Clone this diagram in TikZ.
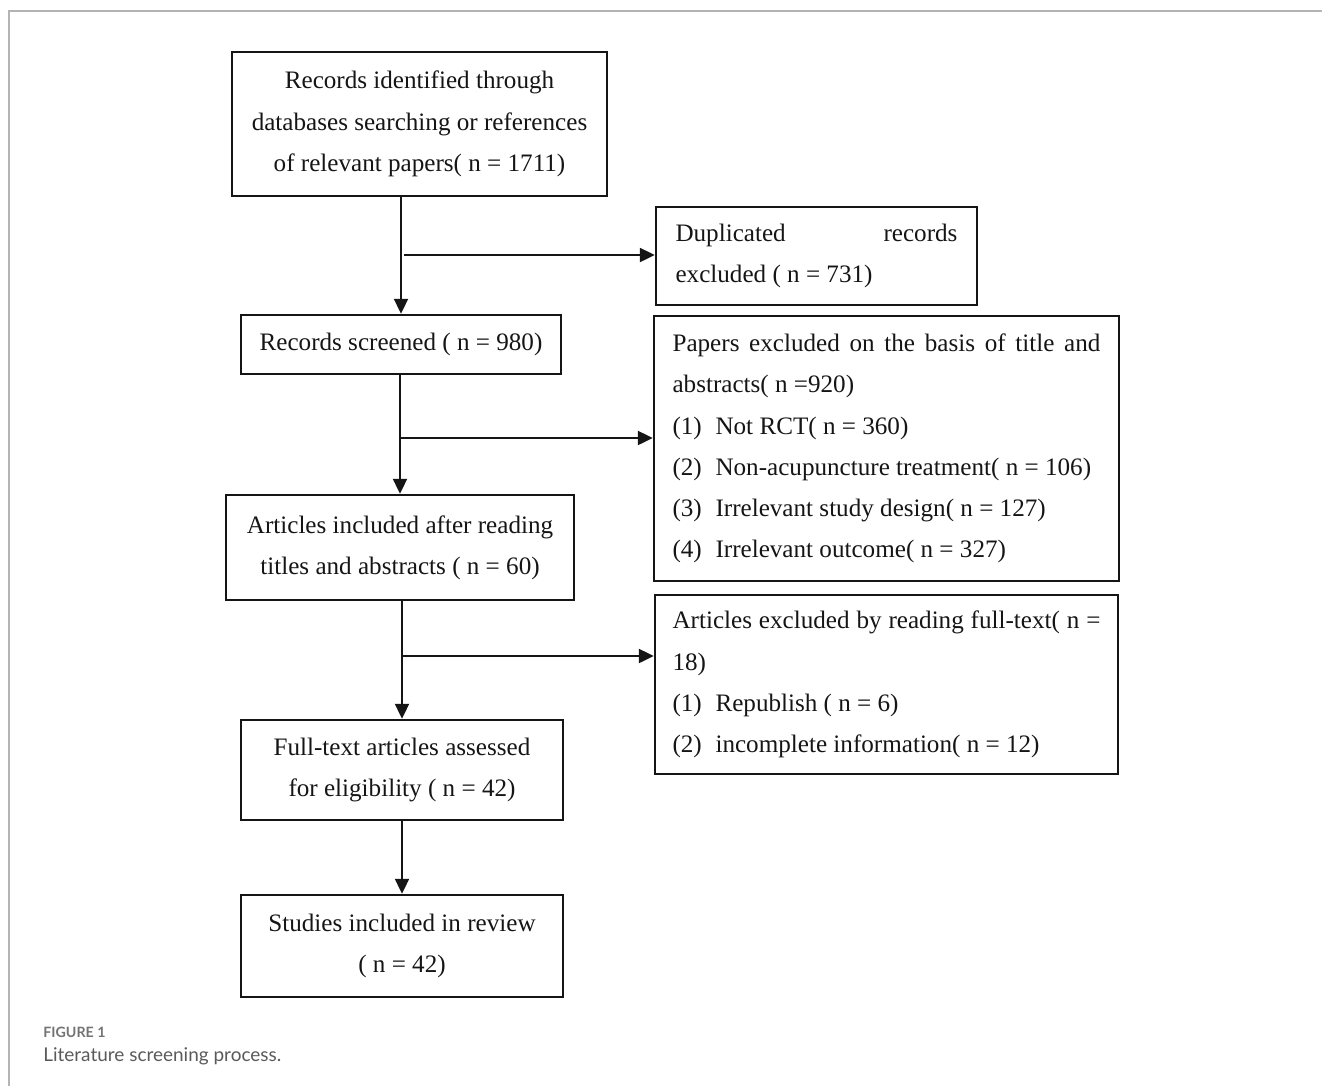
\documentclass[tikz,border=0pt]{standalone}
\usepackage{fontspec}
\setmainfont{Liberation Serif}
\newfontfamily\capfont{Lato}
\usetikzlibrary{arrows.meta}
\definecolor{capgray}{HTML}{5A5A5A}
\definecolor{framegray}{HTML}{B4B4B4}
\definecolor{ink}{HTML}{151515}
\begin{document}
\begin{tikzpicture}[x=0.02cm,y=-0.02cm,
  box/.style={draw=ink, line width=0.05cm, inner sep=0pt, text=ink,
    font=\fontsize{14.3pt}{23.5pt}\selectfont},
  cbox/.style={box, align=center},
  jbox/.style={box, align=justify},
  arr/.style={draw=ink, line width=0.045cm, -{Triangle[length=0.3cm,width=0.28cm]}},
  frame/.style={draw=framegray, line width=0.04cm}
]
\useasboundingbox (0,0) rectangle (1322,1086);
% frame
\coordinate (ftl) at (9,11);
\coordinate (ftr) at (1322,11);
\coordinate (fbl) at (9,1086);
\draw[frame] (ftr) -- (ftl) -- (fbl);

% left column
\node[cbox, minimum width=7.5cm, minimum height=2.88cm] (b1) at (419.5,124)
  {Records identified through\\databases searching or references\\of relevant papers( n = 1711)};
\node[cbox, minimum width=6.4cm, minimum height=1.18cm] (b2) at (401,344.5)
  {Records screened ( n = 980)};
\node[cbox, minimum width=6.96cm, minimum height=2.1cm] (b3) at (400,547.5)
  {Articles included after reading\\titles and abstracts ( n = 60)};
\node[cbox, minimum width=6.44cm, minimum height=2.0cm] (b4) at (402,770)
  {Full-text articles assessed\\for eligibility ( n = 42)};
\node[cbox, minimum width=6.44cm, minimum height=2.04cm] (b5) at (402,946)
  {Studies included in review\\( n = 42)};

% right column
\node[jbox, text width=5.64cm, minimum width=6.42cm, minimum height=1.96cm] (dup) at (816.5,256)
  {Duplicated records\linebreak excluded ( n = 731)};
\node[jbox, text width=8.56cm, minimum width=9.3cm, minimum height=5.3cm] (pap) at (886.5,448.5)
  {Papers excluded on the basis of title and\linebreak abstracts( n =920)\\
   \makebox[0.86cm][l]{(1)}Not RCT( n = 360)\\
   \makebox[0.86cm][l]{(2)}Non-acupuncture treatment( n = 106)\\
   \makebox[0.86cm][l]{(3)}Irrelevant study design( n = 127)\\
   \makebox[0.86cm][l]{(4)}Irrelevant outcome( n = 327)};
\node[jbox, text width=8.56cm, minimum width=9.26cm, minimum height=3.58cm] (artex) at (886.5,684.5)
  {Articles excluded by reading full-text( n =\linebreak 18)\\
   \makebox[0.86cm][l]{(1)}Republish ( n = 6)\\
   \makebox[0.86cm][l]{(2)}incomplete information( n = 12)};

% connectors
\draw[arr] (b1.south -| b2.north) -- (b2.north);
\coordinate (j1) at (404,255);
\draw[arr] (j1) -- (j1 -| dup.west);
\draw[arr] (b2.south -| b3.north) -- (b3.north);
\coordinate (j2) at (400,438);
\draw[arr] (j2) -- (j2 -| pap.west);
\draw[arr] (b3.south -| b4.north) -- (b4.north);
\coordinate (j3) at (401,656);
\draw[arr] (j3) -- (j3 -| artex.west);
\draw[arr] (b4.south -| b5.north) -- (b5.north);

% caption
\node[anchor=base west, inner sep=0pt, text=capgray!85,
  font=\capfont\bfseries\fontsize{8.1pt}{9pt}\selectfont] (figlab) at (43,1037) {FIGURE 1};
\node[anchor=base west, inner sep=0pt, text=capgray,
  font=\capfont\fontsize{10.8pt}{12pt}\selectfont] (figcap) at (43,1061) {Literature screening process.};
\end{tikzpicture}
\end{document}
